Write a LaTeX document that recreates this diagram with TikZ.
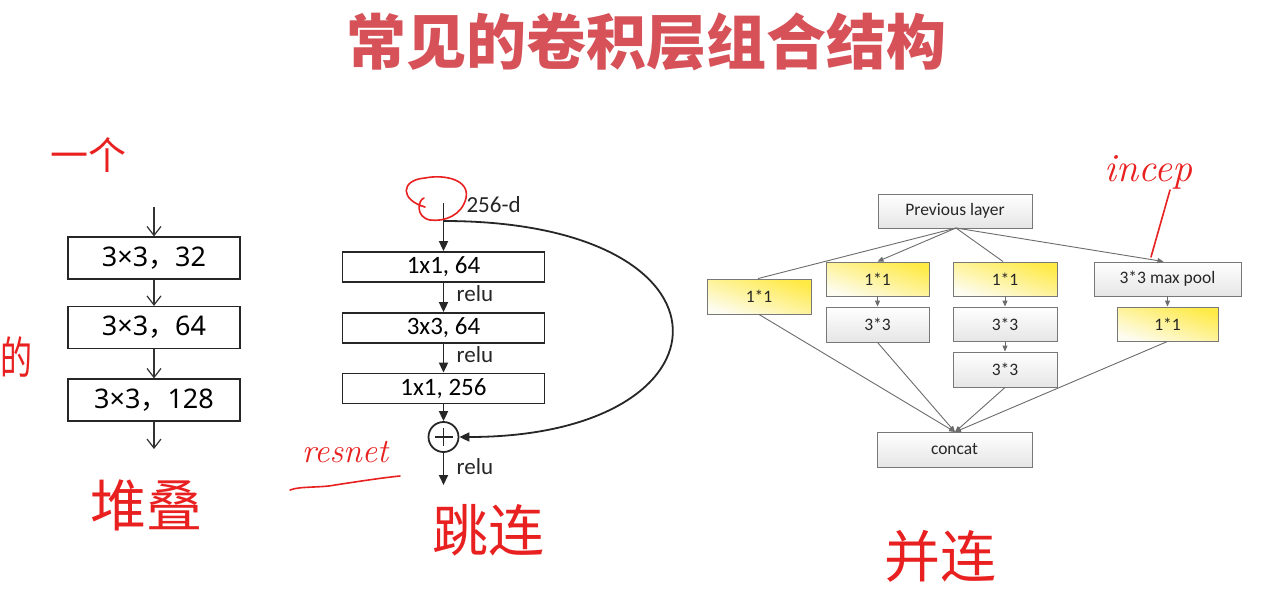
\documentclass[tikz,border=0pt]{standalone}
\usepackage{fontspec}
\newfontfamily\cjk{Noto Sans CJK SC}
\newfontfamily\nsans{Noto Sans}
\newfontfamily\carl{Carlito}
\usetikzlibrary{arrows.meta,shadows}
\definecolor{titlered}{RGB}{214,82,88}
\definecolor{pen}{RGB}{232,32,32}
\definecolor{yb}{RGB}{255,234,70}
\definecolor{yl}{RGB}{253,252,240}
\definecolor{ig}{RGB}{120,120,120}
\newcommand{\fc}{{\cjk ，}}
\begin{document}
\begin{tikzpicture}[x=1pt,y=-1pt,
  lbox/.style={draw=black!85,line width=1.2pt,minimum width=172pt,minimum height=42pt,inner sep=0pt,font=\nsans\fontsize{27}{27}\selectfont},
  larrow/.style={draw=black!80,line width=1.2pt,-{Straight Barb[length=9pt,width=14pt,line width=1.2pt]}},
  rbox/.style={draw=black!85,line width=1.8pt,minimum width=202pt,minimum height=30pt,inner sep=0pt,font=\carl\fontsize{25}{25}\selectfont},
  rarrow/.style={draw=black!85,line width=1.8pt,-{Triangle[length=10pt,width=9pt]}},
  rlabel/.style={font=\carl\fontsize{23}{23}\selectfont,text=black!85},
  ibox/.style={draw=ig,line width=0.9pt,inner sep=0pt,top color=white,bottom color=black!10,
    drop shadow={shadow xshift=1.2pt,shadow yshift=-1.2pt,opacity=0.25},font=\carl\fontsize{17.5}{17.5}\selectfont,text=black!85},
  ybox/.style={ibox,top color=yb,middle color=yb!88!yl,bottom color=yl,shading angle=-18},
  iarrow/.style={draw=ig!90!black,line width=0.9pt,-{Triangle[length=6pt,width=5pt]}},
  iline/.style={draw=ig!90!black,line width=0.9pt},
  hand/.style={text=pen,font=\cjk\fontsize{#1}{#1}\selectfont,inner sep=0pt},
  penline/.style={draw=pen,line width=1.6pt,line cap=round,line join=round}]
\useasboundingbox[fill=white] (0,0) rectangle (1268,599);

% title
\node[text=titlered,font=\cjk\bfseries\fontsize{60}{60}\selectfont] (title) at (646,42) {常见的卷积层组合结构};

% ---------- stacked convolutions ----------
\coordinate (lin) at (154,207);
\node[lbox] (l1) at (154,258) {3×3\fc 32};
\node[lbox] (l2) at (154,327.5) {3×3\fc 64};
\node[lbox] (l3) at (154,400) {3×3\fc 128};
\coordinate (lout) at (154,449);
\draw[larrow] (lin) -- (l1);
\draw[larrow] (l1) -- (l2);
\draw[larrow] (l2) -- (l3);
\draw[larrow] (l3) -- (lout);

% ---------- residual block ----------
\coordinate (rin) at (443.5,203);
\coordinate (branch) at (443.5,221);
\node[rlabel,anchor=west] (dim) at (463,205) {256-d};
\node[rbox] (r1) at (443.5,267) {1x1, 64};
\node[rbox] (r2) at (443.5,328) {3x3, 64};
\node[rbox] (r3) at (443.5,388.5) {1x1, 256};
\node[circle,draw=black!85,line width=1.8pt,minimum size=30pt,inner sep=0pt] (plus) at (443.5,437) {};
\draw[black!85,line width=1.8pt] ([xshift=-9pt]plus.center) -- ([xshift=9pt]plus.center)
  ([yshift=-9pt]plus.center) -- ([yshift=9pt]plus.center);
\coordinate (rout) at (443.5,485);
\draw[rarrow] (rin) -- (r1);
\draw[rarrow] (r1) -- (r2);
\draw[rarrow] (r2) -- (r3);
\draw[rarrow] (r3) -- (plus);
\draw[rarrow] (plus) -- (rout);
\draw[rarrow] (branch) .. controls (750,221) and (740,437) .. (plus.east);
\node[rlabel] (relu1) at (475,294) {relu};
\node[rlabel] (relu2) at (475,355) {relu};
\node[rlabel] (relu3) at (475,467) {relu};

% ---------- inception module ----------
\node[ibox,minimum width=154pt,minimum height=34pt] (prev) at (955,211) {Previous layer};
\node[ybox,minimum width=104pt,minimum height=35pt] (a1) at (759,296.5) {1*1};
\node[ybox,minimum width=103pt,minimum height=34pt] (b1) at (877.5,279) {1*1};
\node[ibox,minimum width=103pt,minimum height=35pt] (b2) at (877.5,324.5) {3*3};
\node[ybox,minimum width=104pt,minimum height=34pt] (c1) at (1005,279) {1*1};
\node[ibox,minimum width=104pt,minimum height=34pt] (c2) at (1005,324) {3*3};
\node[ibox,minimum width=104pt,minimum height=35pt] (c3) at (1005,369.5) {3*3};
\node[ibox,minimum width=147pt,minimum height=34pt] (d1) at (1167.5,279) {3*3 max pool};
\node[ybox,minimum width=101pt,minimum height=34pt] (d2) at (1167.5,324) {1*1};
\node[ibox,minimum width=155pt,minimum height=35pt] (concat) at (954.5,449.5) {concat};
\coordinate (ptop) at (956,228);
\coordinate (ctop) at (955,432);
\draw[iline] (ptop) -- ([xshift=-1pt]a1.north);
\draw[iarrow] (ptop) -- (b1.north);
\draw[iline] (ptop) -- ([xshift=-2pt]c1.north);
\draw[iarrow] (ptop) -- ([xshift=-4pt]d1.north);
\draw[iarrow] (b1) -- (b2);
\draw[iarrow] (c1) -- (c2);
\draw[iarrow] (c2) -- (c3);
\draw[iarrow] (d1) -- (d2);
\draw[iarrow] (a1.south) -- (ctop);
\draw[iarrow] (b2.south) -- (ctop);
\draw[iarrow] (c3.south) -- (ctop);
\draw[iarrow] (d2.south) -- (ctop);

% ---------- handwritten notes ----------
\node[hand=38] (n1) at (88,155) {一个};
\node[hand=32,yscale=1.4] (n2) at (17,357) {的};
\node[hand=56] (n3) at (146,505) {堆叠};
\node[hand=34,font=\itshape\fontsize{34}{34}\selectfont] (n4) at (345,452) {resnet};
\draw[penline] (290,490) .. controls (300,486) and (320,488) .. (335,485) .. controls (355,482) and (380,478) .. (400,476);
\draw[penline] (425,207) .. controls (400,200) and (400,180) .. (425,178) .. controls (445,174) and (470,180) .. (466,198) .. controls (462,215) and (445,222) .. (430,220) .. controls (415,217) and (418,200) .. (424,198);
\node[hand=56] (n5) at (488,530) {跳连};
\node[hand=56] (n6) at (940,556) {并连};
\node[hand=40,font=\itshape\fontsize{40}{40}\selectfont] (n7) at (1148,172) {incep};
\draw[penline] (1170,190) -- (1151,257);
\end{tikzpicture}
\end{document}
